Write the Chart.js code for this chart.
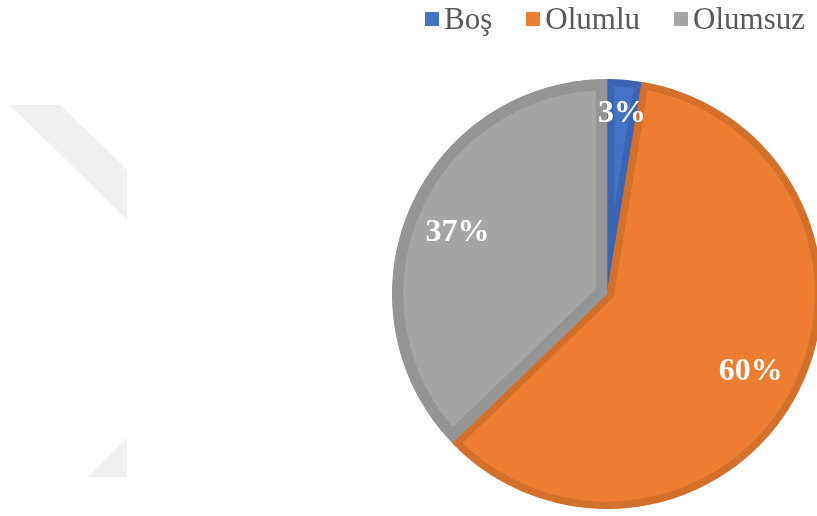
<!DOCTYPE html>
<html lang="tr">
<head>
<meta charset="utf-8">
<title>Pie</title>
<script src="https://cdn.jsdelivr.net/npm/chart.js@4/dist/chart.umd.min.js"></script>
<style>
  html, body { margin: 0; padding: 0; background: #fff; overflow: hidden; }
  body { width: 817px; height: 516px; position: relative; }
  #mark { position: absolute; left: 0; top: 0; }
  #wrap { position: absolute; left: 0; top: 0; width: 830px; height: 520px; }
  #legend {
    position: absolute; right: 12px; top: 1px;
    display: flex; align-items: center;
    font-family: "Liberation Serif", "Times New Roman", serif;
    font-size: 31px; color: #595959; line-height: 36px;
  }
  #legend .item { display: flex; align-items: center; margin-left: 34px; }
  #legend .item:first-child { margin-left: 0; }
  #legend .box { width: 14px; height: 14px; margin-right: 5px; }
</style>
</head>
<body>
<!-- faint background watermark -->
<svg id="mark" width="817" height="516">
  <polygon points="10,105 60,105 127,170 127,220" fill="#f0f0f0"/>
  <polygon points="127,438 127,477 88,477" fill="#f0f0f0"/>
</svg>
<div id="wrap"><canvas id="pieChart"></canvas></div>
<div id="legend"></div>
<script>
// chart data
var labels = ['Boş', 'Olumlu', 'Olumsuz'];
var values = [2.6, 60.2, 37.2];
var fillColors = ['#4472c4', '#ed7d31', '#a5a5a5'];
var edgeColors = ['#3b65b3', '#d3702c', '#959595'];
var edgeWidths = [7, 7, 11];

// percentage labels inside the slices
var sliceLabels = {
    id: 'sliceLabels',
    afterDatasetsDraw: function (chart) {
        var ctx = chart.ctx;
        var meta = chart.getDatasetMeta(0);
        var data = chart.data.datasets[0].data;
        var total = data.reduce(function (a, b) { return a + b; }, 0);
        ctx.save();
        ctx.font = 'bold 32px "Liberation Serif", "Times New Roman", serif';
        ctx.fillStyle = '#ffffff';
        ctx.textAlign = 'center';
        ctx.textBaseline = 'middle';
        meta.data.forEach(function (arc, i) {
            var p = arc.getProps(['x', 'y', 'startAngle', 'endAngle', 'outerRadius'], true);
            var share = data[i] / total;
            var mid = (p.startAngle + p.endAngle) / 2;
            var r = p.outerRadius * (share < 0.05 ? 0.85 : 0.755);
            ctx.fillText(Math.round(share * 100) + '%', p.x + Math.cos(mid) * r, p.y + Math.sin(mid) * r + 2);
        });
        ctx.restore();
    }
};

var ctx = document.getElementById('pieChart').getContext('2d');
var chart = new Chart(ctx, {
    type: 'pie',
    data: {
        labels: labels,
        datasets: [{
            data: values,
            backgroundColor: fillColors,
            borderColor: edgeColors,
            borderWidth: edgeWidths,
            borderAlign: 'inner',
            hoverOffset: 0
        }]
    },
    options: {
        responsive: true,
        maintainAspectRatio: false,
        animation: false,
        layout: { padding: { left: 392, right: 8, top: 79, bottom: 11 } },
        plugins: {
            legend: { display: false },
            tooltip: { enabled: false }
        }
    },
    plugins: [sliceLabels]
});

// html legend built from the same arrays
var legend = document.getElementById('legend');
labels.forEach(function (name, i) {
    var item = document.createElement('div');
    item.className = 'item';
    var box = document.createElement('span');
    box.className = 'box';
    box.style.background = fillColors[i];
    item.appendChild(box);
    item.appendChild(document.createTextNode(name));
    legend.appendChild(item);
});
</script>
</body>
</html>
